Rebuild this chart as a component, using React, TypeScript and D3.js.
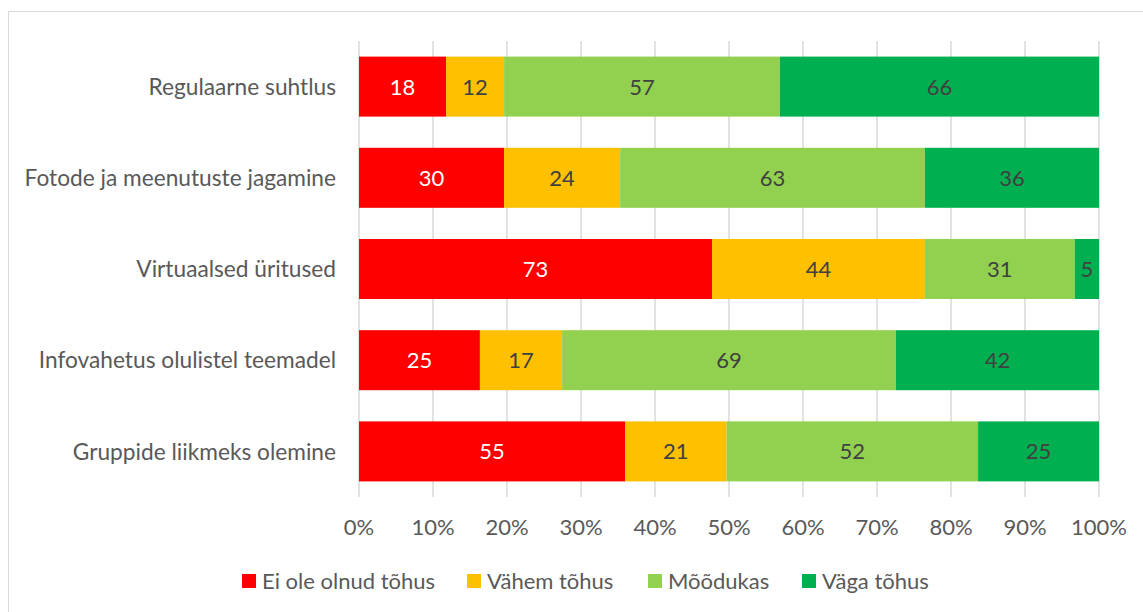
import React from "react";
import * as d3 from "d3";

const categories = [
  "Regulaarne suhtlus",
  "Fotode ja meenutuste jagamine",
  "Virtuaalsed üritused",
  "Infovahetus olulistel teemadel",
  "Gruppide liikmeks olemine",
];
const seriesNames = ["Ei ole olnud tõhus", "Vähem tõhus", "Mõõdukas", "Väga tõhus"];
const seriesColors = ["#FF0000", "#FFC000", "#92D050", "#00B050"];
const labelColors = ["#FFFFFF", "#404040", "#404040", "#404040"];
const eiOle = [18, 30, 73, 25, 55];
const vahem = [12, 24, 44, 17, 21];
const moodukas = [57, 63, 31, 69, 52];
const vaga = [66, 36, 5, 42, 25];
const tickValues = [0, 0.1, 0.2, 0.3, 0.4, 0.5, 0.6, 0.7, 0.8, 0.9, 1.0];

const W = 1143;
const H = 612;
const plot = { left: 359, right: 1099, top: 41, bottom: 497 };
const FONT = "Lato, 'Open Sans', sans-serif";
const FS = 22;

export default function App() {
  const series = [eiOle, vahem, moodukas, vaga];
  const rows = categories.map((c, i) => {
    const vals = series.map((s) => s[i]);
    const total = d3.sum(vals);
    let acc = 0;
    const segs = vals.map((v, k) => {
      const x0 = acc / total;
      acc += v;
      return { k, v, x0, x1: acc / total };
    });
    return { c, segs };
  });

  const x = d3.scaleLinear().domain([0, 1]).range([plot.left, plot.right]);
  const y = d3
    .scaleBand<string>()
    .domain(categories)
    .range([plot.top, plot.bottom])
    .paddingInner(0.342)
    .paddingOuter(0.171);
  const fmt = d3.format(".0%");

  const legendX = [242, 467, 648, 802];

  return (
    <svg
      width={W}
      height={H}
      style={{ position: "absolute", left: 0, top: 0, background: "#fff" }}
      fontFamily={FONT}
    >
      <rect x={0} y={0} width={W} height={H} fill="#fff" />
      <rect x={8.5} y={11.5} width={1140} height={620} fill="none" stroke="#D9D9D9" strokeWidth={1} />
      {tickValues.map((t) => (
        <line
          key={t}
          x1={x(t)}
          x2={x(t)}
          y1={plot.top}
          y2={plot.bottom}
          stroke="#D9D9D9"
          strokeWidth={1.5}
        />
      ))}
      {rows.map((r) => (
        <g key={r.c}>
          {r.segs.map((s) => (
            <rect
              key={s.k}
              x={x(s.x0)}
              y={y(r.c)}
              width={x(s.x1) - x(s.x0)}
              height={y.bandwidth()}
              fill={seriesColors[s.k]}
            />
          ))}
          {r.segs.map((s) => (
            <text
              key={"l" + s.k}
              x={(x(s.x0) + x(s.x1)) / 2}
              y={(y(r.c) as number) + y.bandwidth() / 2}
              dy="0.36em"
              textAnchor="middle"
              fontSize={FS}
              fill={labelColors[s.k]}
            >
              {s.v}
            </text>
          ))}
          <text
            x={336}
            y={(y(r.c) as number) + y.bandwidth() / 2}
            dy="0.36em"
            textAnchor="end"
            fontSize={22.7}
            fill="#595959"
          >
            {r.c}
          </text>
        </g>
      ))}
      {tickValues.map((t) => (
        <text
          key={"t" + t}
          x={x(t)}
          y={527}
          dy="0.36em"
          textAnchor="middle"
          fontSize={FS}
          fill="#595959"
        >
          {fmt(t)}
        </text>
      ))}
      {seriesNames.map((n, k) => (
        <g key={n}>
          <rect x={legendX[k]} y={574} width={14} height={14} fill={seriesColors[k]} />
          <text x={legendX[k] + 20} y={581} dy="0.36em" fontSize={FS} fill="#595959">
            {n}
          </text>
        </g>
      ))}
    </svg>
  );
}
